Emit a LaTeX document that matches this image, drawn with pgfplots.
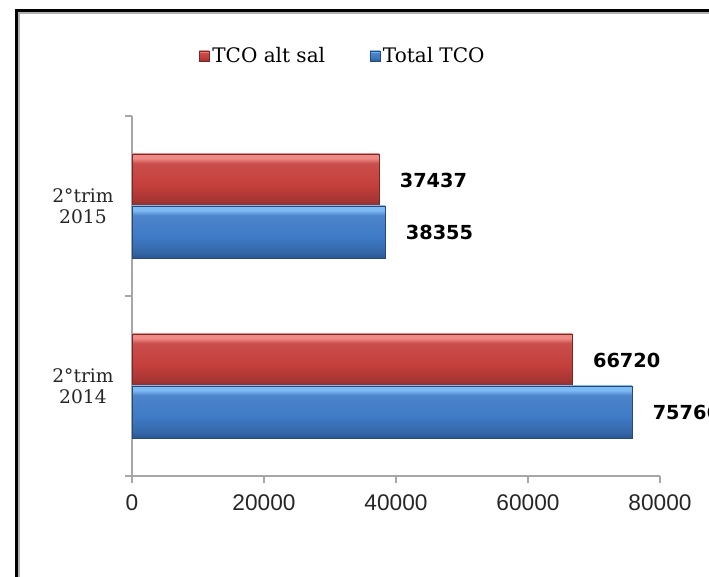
\documentclass[border=0pt]{standalone}
\usepackage{fontspec}
\setmainfont{DejaVu Serif}
\newfontfamily\ticksans{Liberation Sans}
\newfontfamily\valsans{DejaVu Sans}
\usepackage{pgfplots}
\pgfplotsset{compat=1.18}

\definecolor{redtop}{HTML}{F08A86}
\definecolor{redmid}{HTML}{C43F3C}
\definecolor{redbot}{HTML}{8E2F2D}
\definecolor{bluetop}{HTML}{7EBBF5}
\definecolor{bluemid}{HTML}{3E7AC6}
\definecolor{bluebot}{HTML}{2A5690}
\definecolor{axgray}{HTML}{A6A6A6}

% bevel-like shadings: path box maps to 25bp..75bp
\pgfdeclareverticalshading{redbev}{100bp}{color(0bp)=(redbot); color(25bp)=(redbot);
  color(31bp)=(redmid!85!black); color(45bp)=(redmid); color(66bp)=(redmid!92!white);
  color(71bp)=(redtop); color(100bp)=(redtop)}
\pgfdeclareverticalshading{bluebev}{100bp}{color(0bp)=(bluebot); color(25bp)=(bluebot);
  color(31bp)=(bluemid!85!black); color(45bp)=(bluemid); color(66bp)=(bluemid!92!white);
  color(71bp)=(bluetop); color(100bp)=(bluetop)}

\pgfplotsset{
  sqlegend/.style={legend image code/.code={\draw[##1] (0pt,-3.75pt) rectangle (7.5pt,3.75pt);}},
  vallabels/.style={
    point meta=x,
    nodes near coords,
    nodes near coords style={anchor=west, xshift=12pt, text=black,
      font=\valsans\bfseries\fontsize{14.5pt}{16pt}\selectfont,
      /pgf/number format/1000 sep={}, /pgf/number format/fixed, /pgf/number format/precision=0}},
  redbar/.style={xbar, bar width=0.289, bar shift=0,
    draw=redbot!85!black, line width=0.4pt,
    shade, shading=redbev,
    sqlegend, vallabels},
  bluebar/.style={xbar, bar width=0.289, bar shift=0,
    draw=bluebot!85!black, line width=0.4pt,
    shade, shading=bluebev,
    sqlegend, vallabels},
}

\begin{document}
\begin{tikzpicture}
% 1px = 0.75pt, picture is 709 x 577 px
\useasboundingbox (0,0) rectangle (531.75pt,432.75pt);
\clip (0,0) rectangle (531.75pt,432.75pt);
% frame of the chart area (cut at right and bottom)
\draw[line width=2pt, black] (12.2pt,-2pt) |- (535pt,424.75pt);
\draw[line width=1.1pt, black!30] (14.1pt,-2pt) |- (535pt,422.9pt);

\begin{axis}[
  at={(99pt,75.75pt)}, anchor=south west,
  scale only axis, width=396pt, height=270pt,
  xmin=0, xmax=80000, ymin=-0.5, ymax=1.5,
  axis x line*=bottom, axis y line*=left,
  axis line style={draw=axgray, line width=1.1pt},
  tick style={draw=axgray, line width=1.1pt},
  tick align=outside, major tick length=5.25pt,
  xtick={0,20000,40000,60000,80000},
  scaled x ticks=false,
  /pgf/number format/assume math mode=true,
  xticklabel style={font=\ticksans\fontsize{17pt}{19pt}\selectfont, /pgf/number format/1000 sep={}, text=black!85, yshift=-5.5pt},
  ytick={-0.5,0.5,1.5},
  y tick label as interval,
  yticklabels={{2°trim\\2014},{2°trim\\2015}},
  yticklabel style={align=center, font=\fontsize{14pt}{15.75pt}\selectfont, text=black!85, xshift=-5pt},
  legend style={at={(0.40,1.1667)}, anchor=center, draw=none, fill=none,
    legend columns=2, font=\fontsize{15pt}{17pt}\selectfont,
    /tikz/every even column/.append style={column sep=31.5pt},
    legend cell align=left},
  clip=false,
]
% TCO alt sal (red), upper bar of each category
\addplot[redbar] coordinates {(37437,1.1445)};
\addlegendentry{TCO alt sal}
% Total TCO (blue), lower bar of each category
\addplot[bluebar] coordinates {(38355,0.8555)};
\addlegendentry{Total TCO}
\addplot[redbar, forget plot] coordinates {(66720,0.1445)};
\addplot[bluebar, forget plot] coordinates {(75766,-0.1445)};
\end{axis}
\end{tikzpicture}
\end{document}
